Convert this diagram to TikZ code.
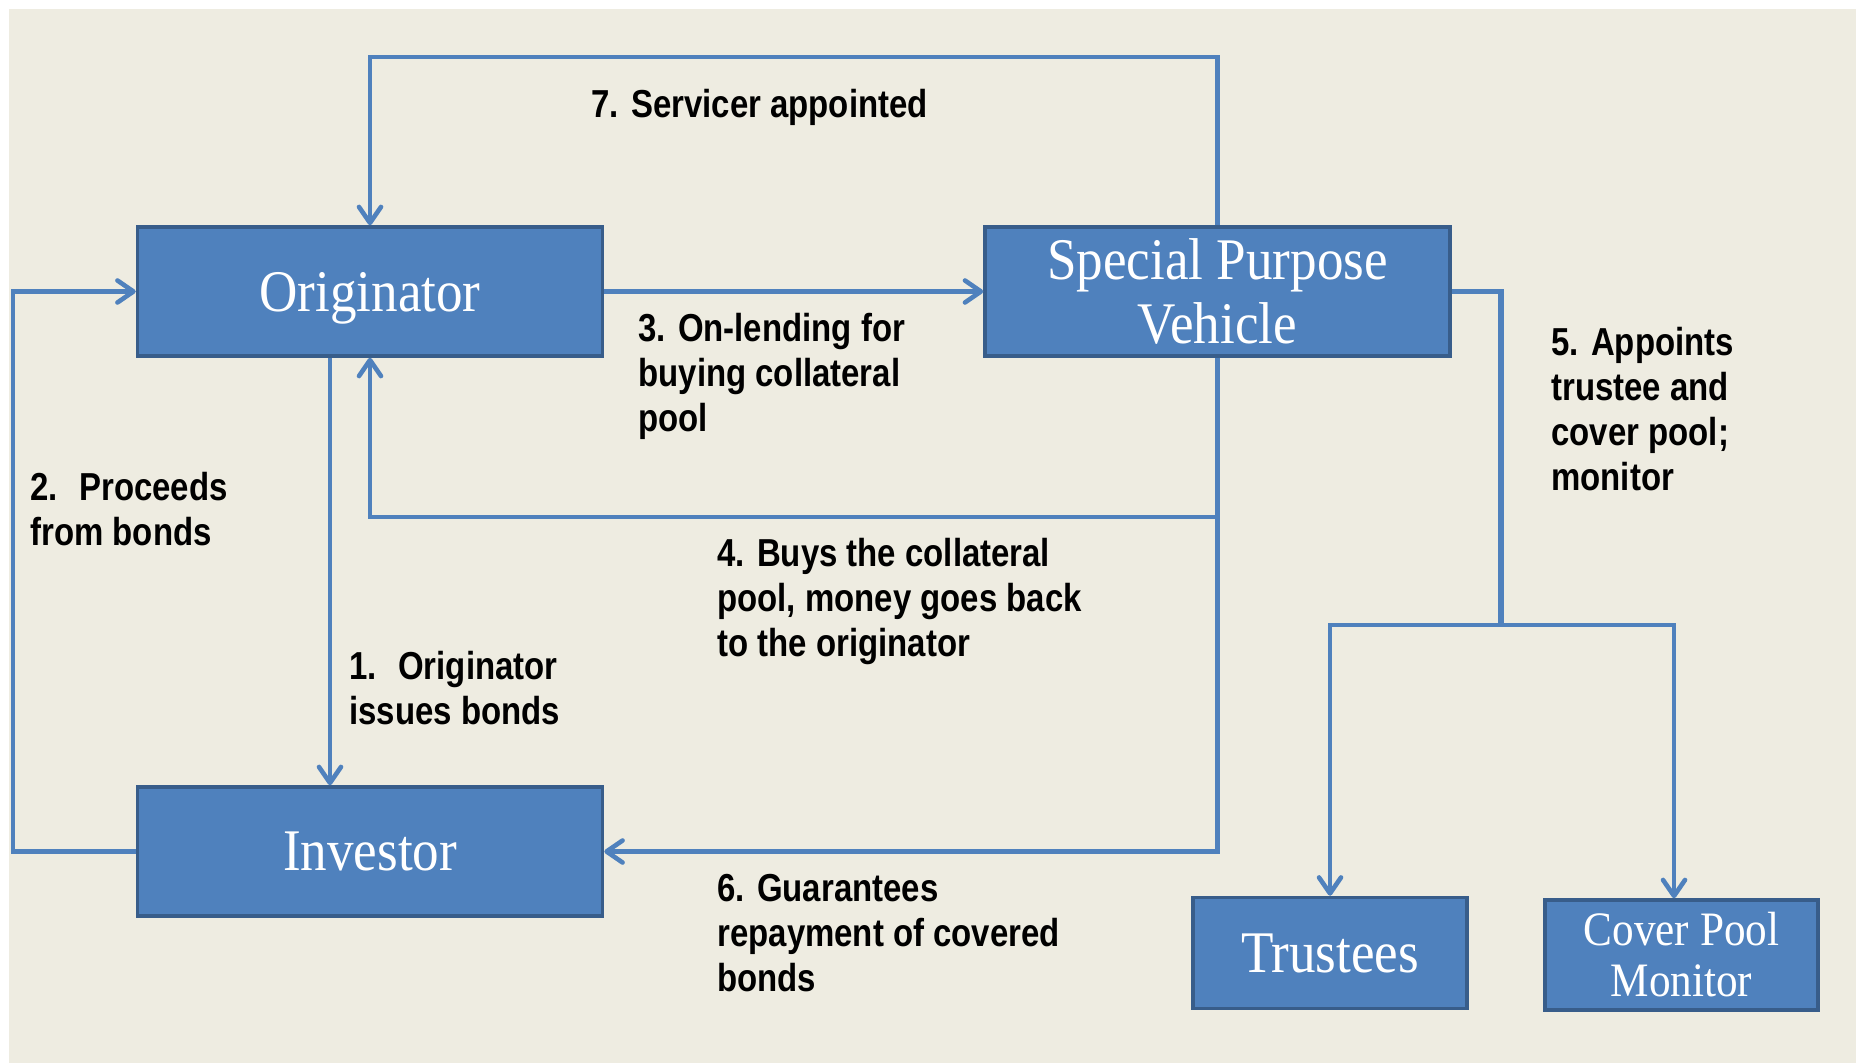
\documentclass[tikz,border=0pt]{standalone}
\usepackage{fontspec}
\usetikzlibrary{arrows.meta}
\newfontfamily\lblfont[FakeStretch=0.845]{Liberation Sans}
\newfontfamily\boxfont[FakeStretch=0.9]{Liberation Serif}
\definecolor{bgbeige}{HTML}{EEECE1}
\definecolor{boxfill}{HTML}{4F81BD}
\definecolor{boxline}{HTML}{385D8A}
\definecolor{connline}{HTML}{4F81BD}
\tikzset{
  entity/.style={draw=boxline, fill=boxfill, line width=1.75pt, text=white,
    font=\boxfont\fontsize{29.5}{32}\selectfont, align=center, inner sep=0pt},
  conn/.style={draw=connline, line width=2.3pt, line join=miter},
  arr/.style={conn, -{Straight Barb[length=8pt,width=11pt,line cap=round,line join=round]}},
  lbl/.style={anchor=north west, inner sep=0pt, align=left,
    font=\lblfont\bfseries\fontsize{19.5}{22.5}\selectfont}
}
\begin{document}
\begin{tikzpicture}[x=0.5pt,y=-0.5pt]
\useasboundingbox (0,0) rectangle (1856,1063);
\fill[white] (0,0) rectangle (1856,1063);
\fill[bgbeige] (9,9) rectangle (1856,1063);

% boxes
\node[entity, minimum width=232.5pt, minimum height=64.5pt, text depth=0pt] (orig) at (370,291.5) {Originator};
\node[entity, minimum width=232.5pt, minimum height=64.5pt] (spv) at (1217.5,291.5) {Special Purpose\\Vehicle};
\node[entity, minimum width=232.5pt, minimum height=64.5pt] (inv) at (370,851.5) {Investor};
\node[entity, minimum width=137pt, minimum height=55.5pt] (trus) at (1330,953) {Trustees};
\node[entity, minimum width=136.5pt, minimum height=55pt, font=\boxfont\fontsize{24}{25.5}\selectfont] (cpm) at (1681.5,955) {Cover Pool\\Monitor};

% helper coordinates
\coordinate (t7) at (0,57);
\coordinate (y4) at (0,517);
\coordinate (x1) at (330,0);
\coordinate (x2) at (13,0);
\coordinate (b5) at (1501,625);
\coordinate (c5) at (1674,625);

% 7
\draw[arr] (spv.north) -- (spv.north |- t7) -- (orig.north |- t7) -- (orig.north);
% 3
\draw[arr] (orig.east) -- (spv.west);
% 4
\draw[arr] (spv.south) -- (spv.south |- y4) -- (orig.south |- y4) -- (orig.south);
% 6
\draw[arr] (spv.south) -- (spv.south |- inv.east) -- (inv.east);
% 1
\draw[arr] (orig.south -| x1) -- (inv.north -| x1);
% 2
\draw[arr] (inv.west) -- (inv.west -| x2) -- (orig.west -| x2) -- (orig.west);
% 5
\draw[conn, line width=2.8pt] (spv.east) -- (spv.east -| b5) -- (b5);
\draw[arr] (b5) -- (trus.north |- b5) -- (trus.north);
\draw[arr] (b5) -- (c5) -- (c5 |- cpm.north);

% labels
\node[lbl] (l7) at (591,89) {7. Servicer appointed};
\node[lbl] (l3) at (638,313) {3. On-lending for\\buying collateral\\pool};
\node[lbl] (l2) at (30,472) {2.\hspace{0.55em}Proceeds\\from bonds};
\node[lbl] (l1) at (349,651) {1.\hspace{0.55em}Originator\\issues bonds};
\node[lbl] (l4) at (717,538) {4. Buys the collateral\\pool, money goes back\\to the originator};
\node[lbl] (l6) at (717,874) {6. Guarantees\\repayment of covered\\bonds};
\node[lbl] (l5) at (1551,327) {5. Appoints\\trustee and\\cover pool;\\monitor};
\end{tikzpicture}
\end{document}
